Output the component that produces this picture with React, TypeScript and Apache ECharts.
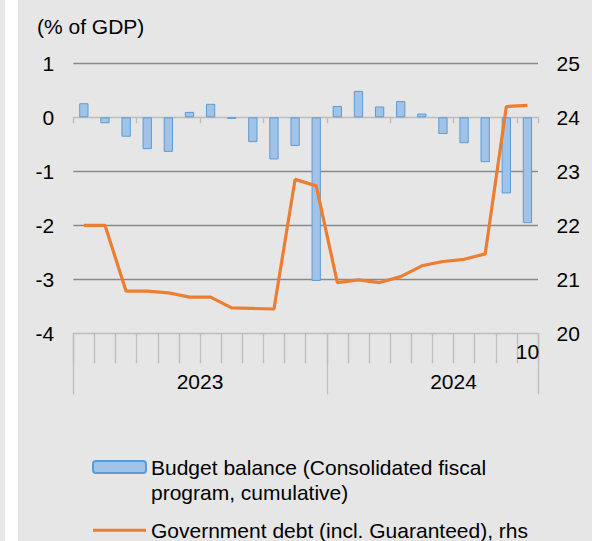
import React, { useEffect, useRef } from "react";
import * as echarts from "echarts";

const months: string[] = [
  "2023-01", "2023-02", "2023-03", "2023-04", "2023-05", "2023-06",
  "2023-07", "2023-08", "2023-09", "2023-10", "2023-11", "2023-12",
  "2024-01", "2024-02", "2024-03", "2024-04", "2024-05", "2024-06",
  "2024-07", "2024-08", "2024-09", "2024-10",
];
const budgetBalance: number[] = [
  0.26, -0.11, -0.36, -0.59, -0.64, 0.10, 0.25, -0.03, -0.46, -0.78, -0.53, -3.03,
  0.21, 0.49, 0.20, 0.30, 0.07, -0.31, -0.48, -0.83, -1.41, -1.96,
];
const govDebt: number[] = [
  22.0, 22.0, 20.78, 20.78, 20.75, 20.67, 20.67, 20.47, 20.46, 20.45, 22.85, 22.73,
  20.94, 20.99, 20.94, 21.05, 21.25, 21.33, 21.37, 21.47, 24.2, 24.22,
];
// year band axis: 23 boundary points, labels at year midpoints
const yearBoundaries: string[] = [
  "", "", "", "", "", "", "2023", "", "", "", "", "", "",
  "", "", "", "", "", "2024", "", "", "", "",
];
const yearTickIdx: number[] = [0, 12, 22];
const lastMonthLabel = "10";
const leftTicks = { min: -4, max: 1, interval: 1 };
const rightTicks = { min: 20, max: 25, interval: 1 };
const barName = "Budget balance (Consolidated fiscal program, cumulative)";
const lineName = "Government debt (incl. Guaranteed), rhs";

const FONT = "'Liberation Sans', Arial, Helvetica, sans-serif";
const FS = 21;

export default function App() {
  const ref = useRef<HTMLDivElement>(null);
  useEffect(() => {
    if (!ref.current) return;
    const chart = echarts.init(ref.current, undefined, { renderer: "svg" });
    const grid = { left: 73.3, right: 54, top: 63.3, bottom: 207.7 };
    const dark = "#8a8a8a";
    const light = "#bdbdbd";
    chart.setOption({
      animation: false,
      backgroundColor: "transparent",
      textStyle: { fontFamily: FONT },
      title: {
        text: "(% of GDP)",
        left: 37,
        top: 14,
        padding: 0,
        textStyle: { fontSize: FS, fontWeight: "normal", color: "#000", fontFamily: FONT, lineHeight: 24 },
      },
      grid,
      legend: {
        orient: "vertical",
        left: 92,
        top: 429.5,
        padding: 0,
        itemGap: 13.3,
        itemWidth: 53,
        itemHeight: 12,
        data: [
          { name: barName },
          { name: lineName, icon: "path://M0,0H53V3H0Z" },
        ],
        formatter: (name: string) =>
          name === barName ? "\nBudget balance (Consolidated fiscal\nprogram, cumulative)" : name,
        textStyle: { fontSize: FS, color: "#000", fontFamily: FONT, lineHeight: 25 },
      },
      xAxis: [
        {
          type: "category",
          data: months,
          position: "bottom",
          axisLine: { onZero: true, lineStyle: { color: light, width: 1.3 } },
          axisTick: { show: true, length: 6, lineStyle: { color: light, width: 1.3 } },
          axisLabel: { show: false },
          splitLine: { show: false },
        },
        {
          type: "category",
          data: months,
          position: "bottom",
          axisLine: { onZero: false, lineStyle: { color: light, width: 1.3 } },
          axisTick: { show: true, interval: 0, length: 30, lineStyle: { color: light, width: 1.3 } },
          axisLabel: {
            interval: 0,
            margin: 6,
            fontSize: FS,
            lineHeight: 24,
            color: "#000",
            fontFamily: FONT,
            formatter: (_v: string, i: number) => (i === months.length - 1 ? lastMonthLabel : ""),
          },
          splitLine: { show: false },
        },
        {
          type: "category",
          data: yearBoundaries,
          boundaryGap: false,
          position: "bottom",
          axisLine: { show: false, onZero: false },
          axisTick: {
            show: true,
            length: 61,
            interval: (i: number) => yearTickIdx.includes(i),
            lineStyle: { color: light, width: 1.3 },
          },
          axisLabel: {
            interval: (i: number, v: string) => v !== "",
            margin: 36,
            fontSize: FS,
            lineHeight: 24,
            color: "#000",
            fontFamily: FONT,
          },
          splitLine: { show: false },
        },
      ],
      yAxis: [
        {
          type: "value",
          position: "left",
          ...leftTicks,
          axisLine: { show: false },
          axisTick: { show: false },
          axisLabel: { margin: 19, fontSize: FS, color: "#000", fontFamily: FONT },
          splitLine: {
            show: true,
            lineStyle: { color: ["rgba(0,0,0,0)", dark, dark, dark, "rgba(0,0,0,0)", dark], width: 1.3 },
          },
        },
        {
          type: "value",
          position: "right",
          ...rightTicks,
          axisLine: { show: false },
          axisTick: { show: false },
          axisLabel: { margin: 18.5, fontSize: FS, color: "#000", fontFamily: FONT },
          splitLine: { show: false },
        },
      ],
      series: [
        {
          name: barName,
          type: "bar",
          xAxisIndex: 0,
          yAxisIndex: 0,
          data: budgetBalance,
          barWidth: "44%",
          itemStyle: { color: "#a2c3e8", borderColor: "#5b9bd5", borderWidth: 1 },
        },
        {
          name: lineName,
          type: "line",
          xAxisIndex: 0,
          yAxisIndex: 1,
          data: govDebt,
          symbol: "none",
          lineStyle: { color: "#ed7d31", width: 3.2 },
          itemStyle: { color: "#ed7d31" },
        },
      ],
    });
    return () => chart.dispose();
  }, []);
  return (
    <div
      style={{
        position: "fixed",
        left: 0,
        top: 0,
        width: 592,
        height: 541,
        background: "linear-gradient(to right, #e8e8e8 0px, #e8e8e8 5px, #ffffff 5px, #ffffff 18px, #e6e6e6 18px)",
      }}
    >
      <div ref={ref} style={{ width: 592, height: 541 }} />
    </div>
  );
}
